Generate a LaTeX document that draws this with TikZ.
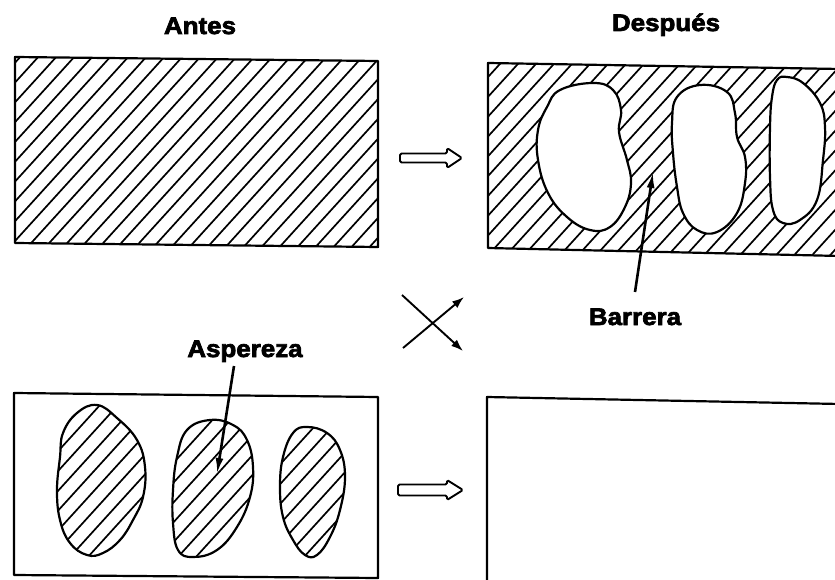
\documentclass[tikz,border=0pt]{standalone}
\usepackage{fontspec}
\newfontfamily\labfont{Liberation Sans Bold}[FakeBold=3,FakeStretch=1.08]
\usetikzlibrary{arrows.meta}
\tikzset{
  outline/.style={line width=2.2pt,line join=round},
  hatchline/.style={line width=1.7pt},
  pointer/.style={line width=2.6pt,-{Latex[length=16pt,width=8pt]}},
  crossarrow/.style={line width=1.9pt,-{Latex[length=12pt,width=8.5pt]}},
  lab/.style={font=\labfont\fontsize{24}{28}\selectfont,anchor=base,inner sep=0pt},
  hollow/.style={line width=1.9pt,line join=round,fill=white}
}
\newcommand\myhatch{\foreach \c in {0,18,...,1620} {\draw[hatchline] (\c,0) -- ({\c-636},700);}}
\newcommand\hatchblob[1]{%
  \begin{scope}\clip plot[smooth cycle,tension=0.7] coordinates {#1};\myhatch\end{scope}%
  \draw[outline] plot[smooth cycle,tension=0.7] coordinates {#1};}
\newcommand\hole[1]{\filldraw[outline,fill=white] plot[smooth cycle,tension=0.7] coordinates {#1};}
\begin{document}
\begin{tikzpicture}[x=1pt,y=-1pt]
\useasboundingbox (0,0) rectangle (835,580);
% labels
\node[lab] (antes) at (200,34) {Antes};
\node[lab] (despues) at (666,31) {Después};
\node[lab] (barrera) at (635,325) {Barrera};
\node[lab] (aspereza) at (245,357) {Aspereza};
% top-left rectangle
\begin{scope}
  \clip (15,57) -- (378,61) -- (378,247) -- (15,243) -- cycle;
  \myhatch
\end{scope}
\draw[outline] (15,57) -- (378,61) -- (378,247) -- (15,243) -- cycle;
% top-right rectangle
\begin{scope}
  \clip (488,63) -- (840,69) -- (840,256) -- (488,248) -- cycle;
  \myhatch
\end{scope}
\hole{(560,90) (593,83) (613,90) (621,110) (619,132) (627,160) (631,183) (625,207) (610,227) (590,230) (567,217) (548,193) (538,160) (538,130) (547,107)}
\hole{(700,85) (727,92) (735,113) (737,137) (745,157) (745,183) (737,213) (717,232) (697,230) (683,213) (677,187) (673,153) (672,123) (677,97)}
\hole{(787,77) (803,83) (820,103) (825,127) (823,160) (817,200) (800,220) (783,223) (773,210) (770,177) (770,127) (772,97) (777,80)}
\draw[outline] (840,69) -- (488,63) -- (488,248) -- (840,256);
% bottom-left rectangle
\draw[outline] (14,393) -- (378,397) -- (378,578) -- (14,575) -- cycle;
\hatchblob{(97,405) (117,418) (137,440) (145,467) (143,497) (133,520) (120,540) (103,553) (87,555) (70,543) (60,520) (57,490) (60,457) (63,433) (77,413)}
\hatchblob{(210,420) (233,425) (247,440) (253,467) (250,497) (237,527) (217,550) (193,557) (178,550) (173,523) (173,490) (177,457) (187,430)}
\hatchblob{(307,427) (327,433) (340,450) (345,477) (340,510) (330,537) (317,555) (305,555) (293,540) (283,517) (280,487) (283,457) (293,433)}
% bottom-right rectangle
\draw[outline] (840,404) -- (487,397) -- (487,585);
% hollow arrows
\draw[hollow,rounded corners=1.5pt] (447,153.5) -- (400,153.5) -- (400,162.5) -- (447,162.5) -- (447,168) -- (462,158) -- (447,148) -- cycle;
\draw[hollow,rounded corners=1.5pt] (447,484.5) -- (398,484.5) -- (398,495.5) -- (447,495.5) -- (447,500) -- (463,490) -- (447,480) -- cycle;
% cross arrows
\coordinate (xas) at (402,295);
\coordinate (xae) at (463,351);
\coordinate (xbs) at (403,348);
\coordinate (xbe) at (464,297);
\draw[crossarrow] (xas) -- (xae);
\draw[crossarrow] (xbs) -- (xbe);
% pointers
\coordinate (barS) at (635,292);
\coordinate (barT) at (653,172);
\draw[pointer] (barS) -- (barT);
\coordinate (aspS) at (234,366);
\coordinate (aspT) at (217,474);
\draw[pointer] (aspS) -- (aspT);
\end{tikzpicture}
\end{document}
